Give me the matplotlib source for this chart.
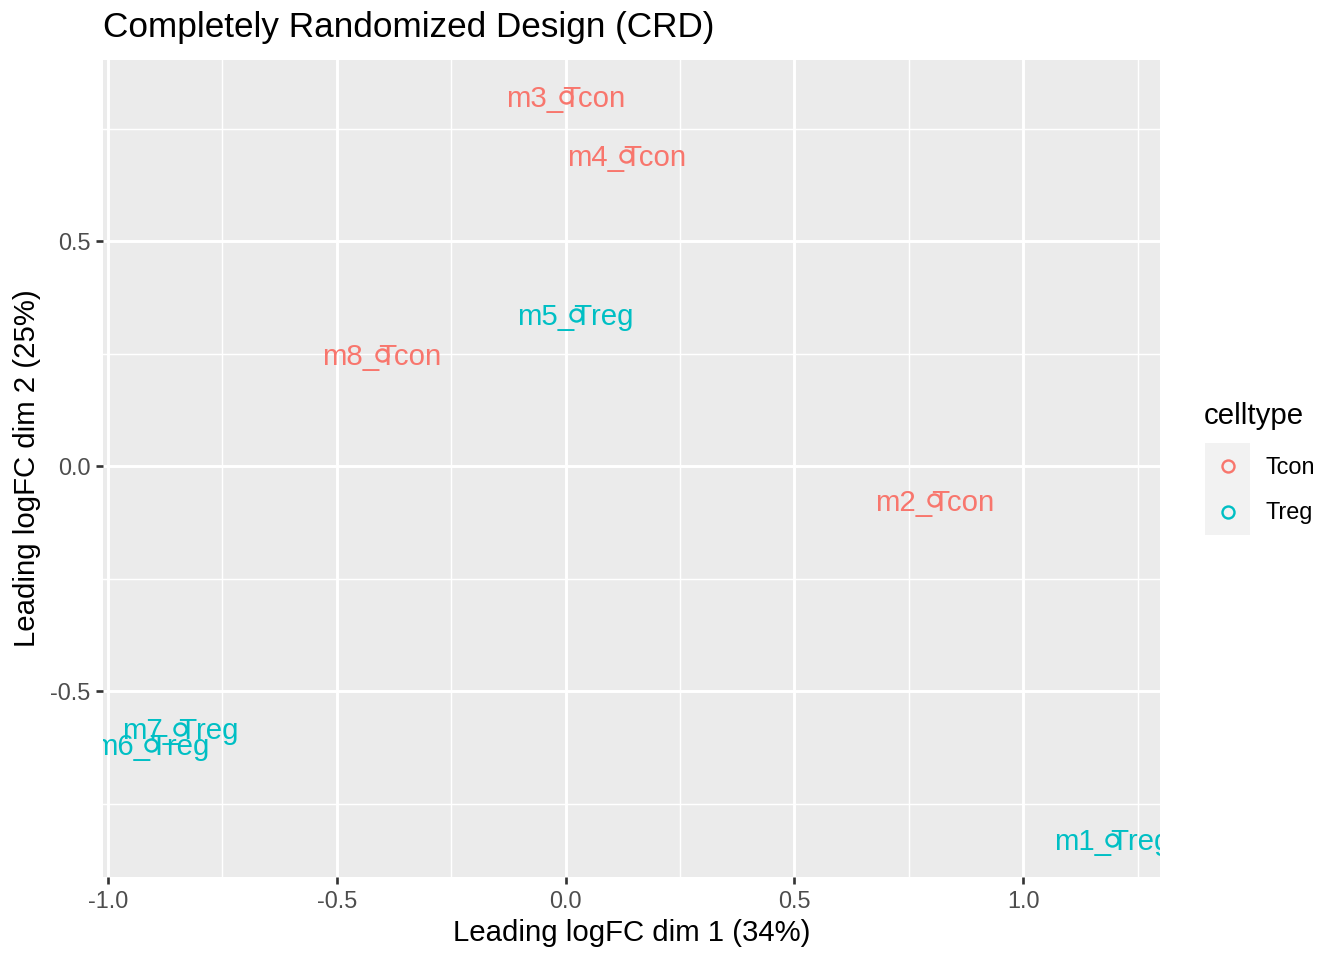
import matplotlib
matplotlib.use("Agg")
import matplotlib.pyplot as plt
from matplotlib.patches import Rectangle

plt.rcParams['font.family'] = ['Liberation Sans', 'DejaVu Sans']

# MDS coordinates
samples = ["m1", "m2", "m3", "m4", "m5", "m6", "m7", "m8"]
celltype = ["Treg", "Tcon", "Tcon", "Tcon", "Treg", "Treg", "Treg", "Tcon"]
dim1 = [1.194, 0.806, 0.000, 0.133, 0.022, -0.906, -0.843, -0.402]
dim2 = [-0.830, -0.076, 0.820, 0.689, 0.336, -0.620, -0.584, 0.247]

levels = ["Tcon", "Treg"]
palette = {"Tcon": "#F8766D", "Treg": "#00BFC4"}

fig = plt.figure(figsize=(7, 5), dpi=192)
ax = fig.add_axes([103 / 1344, 1 - 877 / 960, (1160 - 103) / 1344, (877 - 60) / 960])
ax.set_facecolor("#EBEBEB")

for s, c, x, y in zip(samples, celltype, dim1, dim2):
    ax.plot(x, y, marker="o", mfc="none", mec=palette[c], ms=4.5, mew=0.9, zorder=3)
    ax.annotate(s + "_" + c, (x, y), xytext=(0, -0.8), textcoords="offset points",
                color=palette[c], fontsize=11, ha="center", va="center",
                annotation_clip=False, clip_on=True, zorder=4)

# ggplot-like 5% expansion
xr = max(dim1) - min(dim1)
yr = max(dim2) - min(dim2)
ax.set_xlim(min(dim1) - 0.05 * xr, max(dim1) + 0.05 * xr)
ax.set_ylim(min(dim2) - 0.05 * yr, max(dim2) + 0.05 * yr)

xt = [-1.0, -0.5, 0.0, 0.5, 1.0]
yt = [-0.5, 0.0, 0.5]
ax.set_xticks(xt)
ax.set_xticklabels(["-1.0", "-0.5", "0.0", "0.5", "1.0"])
ax.set_yticks(yt)
ax.set_yticklabels(["-0.5", "0.0", "0.5"])
ax.set_xticks([-0.75, -0.25, 0.25, 0.75, 1.25], minor=True)
ax.set_yticks([-0.75, -0.25, 0.25, 0.75], minor=True)
ax.grid(which="major", color="white", linewidth=1.1)
ax.grid(which="minor", color="white", linewidth=0.55)
ax.set_axisbelow(True)
ax.tick_params(which="major", length=2.75, width=1.0, color="#333333",
               labelcolor="#4D4D4D", labelsize=8.8, pad=2)
ax.tick_params(which="minor", length=0)
for sp in ax.spines.values():
    sp.set_visible(False)

ax.set_xlabel("Leading logFC dim 1 (34%)", fontsize=11, labelpad=2.5)
ax.set_ylabel("Leading logFC dim 2 (25%)", fontsize=11, labelpad=3.5)
fig.text(103 / 1344, 1 - 28 / 960, "Completely Randomized Design (CRD)",
         fontsize=13.2, ha="left", va="center")

# legend
fig.text(1204 / 1344, 1 - 416 / 960, "celltype", fontsize=11, ha="left", va="center")
lax = fig.add_axes([1205 / 1344, 1 - 535 / 960, 45 / 1344, 92 / 960])
lax.set_xlim(0, 1)
lax.set_ylim(0, 2)
lax.axis("off")
for i, lev in enumerate(levels):
    yk = 2 - i - 0.5
    lax.add_patch(Rectangle((0, yk - 0.5), 1, 1, facecolor="#F2F2F2", edgecolor="none"))
    lax.plot(0.5, yk, marker="o", mfc="none", mec=palette[lev], ms=4.5, mew=0.9)
    fig.text(1265 / 1344, 1 - (467 + 46 * i) / 960, lev, fontsize=8.8,
             ha="left", va="center")

fig.savefig("out.png", dpi=192)
